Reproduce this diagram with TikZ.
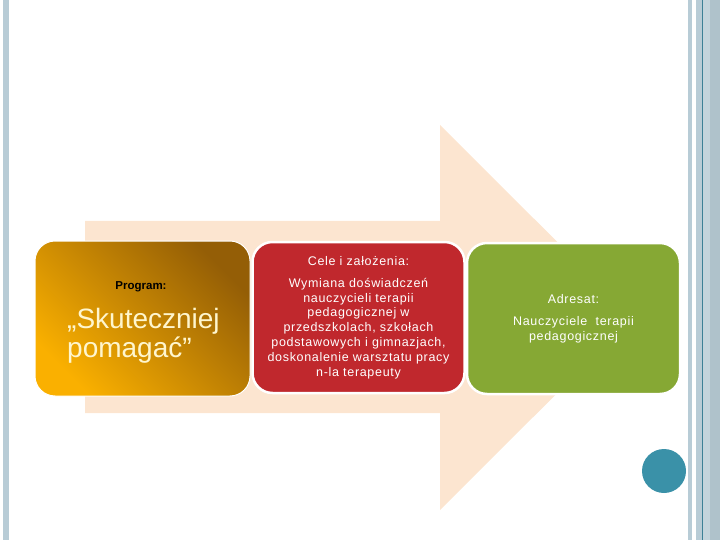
\documentclass[tikz,border=0pt]{standalone}
\usepackage{fontspec}
\setmainfont{Liberation Sans}
\newfontfamily\rozstrzelony[LetterSpace=5.5]{Liberation Sans}
\usepackage{tikz}
\definecolor{brzoskwinia}{RGB}{252,229,208}
\definecolor{ramka}{RGB}{184,204,214}
\definecolor{ciemna}{RGB}{60,128,150}
\definecolor{czerwony}{RGB}{192,40,45}
\definecolor{zielony}{RGB}{134,168,52}
\definecolor{niebieski}{RGB}{58,145,168}
\definecolor{zloty}{RGB}{250,176,0}
\definecolor{braz}{RGB}{148,94,6}
\definecolor{kremowy}{RGB}{255,246,206}

\begin{document}
\begin{tikzpicture}[x=1pt,y=-1pt,
    pole/.style={rounded corners=20pt,draw=white,line width=2.5pt,inner sep=0pt,
      minimum width=212pt,minimum height=151pt,text=white,align=center,
      font=\rozstrzelony\fontsize{12.5}{14.8}\selectfont}]
    \useasboundingbox (0,0) rectangle (720,540);
    \fill[ramka] (3,0) rectangle (9,540);
    \fill[ramka] (688,0) rectangle (692,540);
    \fill[ramka] (696,0) rectangle (702,540);
    \fill[ramka!85!white] (703,0) rectangle (710,540);
    \fill[ramka!95!black] (710,0) rectangle (720,540);
    \draw[ciemna,line width=1pt] (702.5,0) -- (702.5,540);
    \fill[brzoskwinia] (85,221) -- (440,221) -- (440,125) -- (633,317.5)
      -- (440,510) -- (440,413) -- (85,413) -- cycle;
    \node[pole,top color=zloty,bottom color=braz,shading angle=135,line width=1pt,
      minimum width=215pt,minimum height=155pt] (program) at (142.5,318.5) {};
    \node[font=\bfseries\fontsize{11.5}{12}\selectfont,text=black] (naglowek) at (141,287) {Program:};
    \node[anchor=base west,align=left,text=kremowy,inner sep=0pt,
      font=\fontsize{28}{29}\selectfont] (haslo) at (67,357) {„Skuteczniej\\pomagać”};
    \node[pole,fill=czerwony] (cele) at (358.5,317.5)
      {Cele i założenia:\\[7pt]Wymiana doświadczeń\\nauczycieli terapii\\pedagogicznej w\\
       przedszkolach, szkołach\\podstawowych i gimnazjach,\\doskonalenie warsztatu pracy\\n-la terapeuty};
    \node[pole,fill=zielony,minimum width=213pt] (adresat) at (573.5,318.5)
      {Adresat:\\[7pt]Nauczyciele\ \ terapii\\pedagogicznej};
    \node[circle,fill=niebieski,minimum size=44pt] (kolo) at (664,471) {};
\end{tikzpicture}
\end{document}
